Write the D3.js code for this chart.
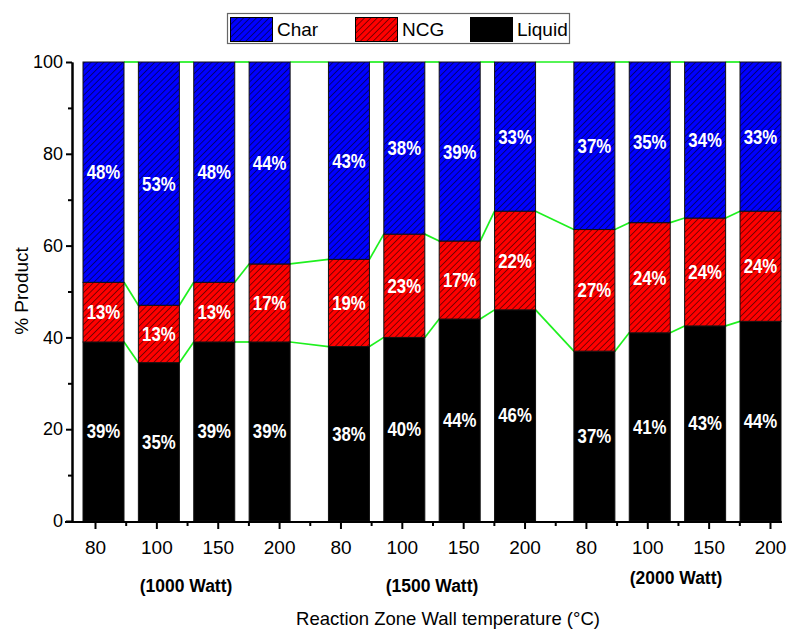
<!DOCTYPE html>
<html>
<head>
<meta charset="utf-8">
<script src="https://cdn.jsdelivr.net/npm/d3@7"></script>
<style>
  html, body { margin: 0; padding: 0; background: #fff; }
  svg { display: block; font-family: "Liberation Sans", Arial, sans-serif; }
</style>
</head>
<body>
<svg id="chart" width="791" height="629"></svg>
<script>
// Temperatures for each power setting
const tempLabels = ["80", "100", "150", "200", "80", "100", "150", "200", "80", "100", "150", "200"];
const powerGroups = ["(1000 Watt)", "(1500 Watt)", "(2000 Watt)"];
// Product yields (%) for each run, stacked bottom to top: Liquid, NCG, Char
const liquid = [39, 34.5, 39, 39, 38, 40, 44, 46, 37, 41, 42.5, 43.5];
const ncg    = [13, 12.5, 13, 17, 19, 22.5, 17, 21.5, 26.5, 24, 23.5, 24];
const char   = [48, 53, 48, 44, 43, 37.5, 39, 32.5, 36.5, 35, 34, 32.5];
const seriesNames = ["Char", "NCG", "Liquid"];
const yTicks = [0, 20, 40, 60, 80, 100];

const svg = d3.select("#chart");

const plot = { left: 72, right: 782, top: 62, bottom: 521 };
const y = d3.scaleLinear().domain([0, 100]).range([plot.bottom, plot.top]);

// bars: four per power group with a wider gap between groups
const perGroup = 4;
const groupGap = 0.4324;           // extra space between groups, in bar steps
const slot = i => (i % perGroup) + Math.floor(i / perGroup) * (perGroup + groupGap);
const xBar = d3.scaleLinear()
  .domain([0, slot(tempLabels.length - 1)])
  .range([103.5, 760.5]);
const barW = 41;

// category axis
const xTick = d3.scaleLinear().domain([0, tempLabels.length - 1]).range([95, 770]);

// hatch patterns
const defs = svg.append("defs");
function hatch(id, color) {
  const p = defs.append("pattern")
    .attr("id", id)
    .attr("patternUnits", "userSpaceOnUse")
    .attr("width", 4.5).attr("height", 4.5)
    .attr("patternTransform", "rotate(45)");
  p.append("rect").attr("width", 4.5).attr("height", 4.5).attr("fill", color);
  p.append("line").attr("x1", 0).attr("y1", 0).attr("x2", 0).attr("y2", 4.5)
    .attr("stroke", "#000").attr("stroke-width", 1);
}
hatch("hatchBlue", "#0000ff");
hatch("hatchRed", "#ff0000");

const fills = { Char: "url(#hatchBlue)", NCG: "url(#hatchRed)", Liquid: "#000" };

// stacked rows
const rows = tempLabels.map((t, i) => ({ i, Liquid: liquid[i], NCG: ncg[i], Char: char[i] }));
const stack = d3.stack().keys(["Liquid", "NCG", "Char"]);
const layers = stack(rows);

// green connector lines between neighbouring bars at each stack boundary
const conn = svg.append("g").attr("fill", "none").attr("stroke", "#1ef01e").attr("stroke-width", 1.7);
layers.forEach(layer => {
  for (let i = 0; i < layer.length - 1; i++) {
    conn.append("line")
      .attr("x1", xBar(slot(i)) + barW / 2)
      .attr("y1", y(layer[i][1]))
      .attr("x2", xBar(slot(i + 1)) - barW / 2)
      .attr("y2", y(layer[i + 1][1]));
  }
});

// bars
const barsG = svg.append("g");
layers.forEach(layer => {
  barsG.append("g").selectAll("rect")
    .data(layer)
    .join("rect")
    .attr("x", (d, i) => xBar(slot(i)) - barW / 2)
    .attr("y", d => y(d[1]))
    .attr("width", barW)
    .attr("height", d => y(d[0]) - y(d[1]))
    .attr("fill", fills[layer.key])
    .attr("stroke", "#111")
    .attr("stroke-width", 1);
});

// value labels in segment centres
const labG = svg.append("g")
  .attr("fill", "#fff")
  .attr("font-weight", "bold")
  .attr("font-size", 21)
  .attr("text-anchor", "middle");
layers.forEach(layer => {
  layer.forEach((d, i) => {
    const cx = xBar(slot(i));
    const cy = y((d[0] + d[1]) / 2) + 7;
    labG.append("text")
      .attr("transform", `translate(${cx},${cy}) scale(0.8,1)`)
      .text(Math.round(d[1] - d[0]) + "%");
  });
});

// y axis
const yAxis = svg.append("g")
  .attr("transform", `translate(${plot.left},0)`)
  .call(d3.axisLeft(y).tickValues(yTicks).tickSize(6).tickSizeOuter(0).tickPadding(3));
svg.append("g")
  .attr("transform", `translate(${plot.left},0)`)
  .call(d3.axisLeft(y).tickValues([10, 30, 50, 70, 90]).tickSize(4).tickSizeOuter(0).tickFormat(""));
svg.selectAll(".domain").attr("stroke-width", 2);
svg.selectAll(".tick line").attr("stroke-width", 2);
yAxis.selectAll("text")
  .attr("font-size", 18)
  .attr("fill", "#000")
  .attr("font-family", "'Liberation Sans', Arial, sans-serif");

// x axis
svg.append("line")
  .attr("x1", 65).attr("x2", plot.right)
  .attr("y1", plot.bottom + 1).attr("y2", plot.bottom + 1)
  .attr("stroke", "#000").attr("stroke-width", 2);
const xAxis = svg.append("g")
  .attr("transform", `translate(0,${plot.bottom + 1})`)
  .call(d3.axisBottom(xTick).tickValues(d3.range(tempLabels.length))
    .tickFormat(i => tempLabels[i]).tickSize(7).tickSizeOuter(0).tickPadding(12));
xAxis.select(".domain").remove();
xAxis.selectAll(".tick line").attr("stroke-width", 2);
xAxis.selectAll("text")
  .attr("font-size", 19)
  .attr("fill", "#000")
  .attr("font-family", "'Liberation Sans', Arial, sans-serif");
const xMinor = svg.append("g")
  .attr("transform", `translate(0,${plot.bottom + 1})`)
  .call(d3.axisBottom(xTick).tickValues(d3.range(0.5, tempLabels.length - 1, 1))
    .tickSize(4).tickSizeOuter(0).tickFormat(""));
xMinor.select(".domain").remove();
xMinor.selectAll(".tick line").attr("stroke-width", 2);

// power group labels
const groupX = [186, 432, 676];
const groupY = [592, 592, 584];
svg.append("g")
  .attr("font-weight", "bold")
  .attr("font-size", 17.5)
  .attr("text-anchor", "middle")
  .selectAll("text")
  .data(powerGroups)
  .join("text")
  .attr("x", (d, i) => groupX[i])
  .attr("y", (d, i) => groupY[i])
  .text(d => d);

// axis titles
svg.append("text")
  .attr("x", 448).attr("y", 625)
  .attr("text-anchor", "middle")
  .attr("font-size", 18.5)
  .text("Reaction Zone Wall temperature (°C)");
svg.append("text")
  .attr("transform", "translate(28,291) rotate(-90)")
  .attr("text-anchor", "middle")
  .attr("font-size", 19)
  .text("% Product");

// legend
const leg = svg.append("g");
leg.append("rect")
  .attr("x", 227.5).attr("y", 13.5).attr("width", 342).attr("height", 30)
  .attr("fill", "#fff").attr("stroke", "#666").attr("stroke-width", 1.2);
const legX = [230, 355, 470];
seriesNames.forEach((name, i) => {
  leg.append("rect")
    .attr("x", legX[i] + 0.5).attr("y", 17.5).attr("width", 42).attr("height", 24)
    .attr("fill", fills[name]).attr("stroke", "#000").attr("stroke-width", 1);
  leg.append("text")
    .attr("x", legX[i] + 47).attr("y", 36)
    .attr("font-size", 19)
    .text(name);
});
</script>
</body>
</html>
